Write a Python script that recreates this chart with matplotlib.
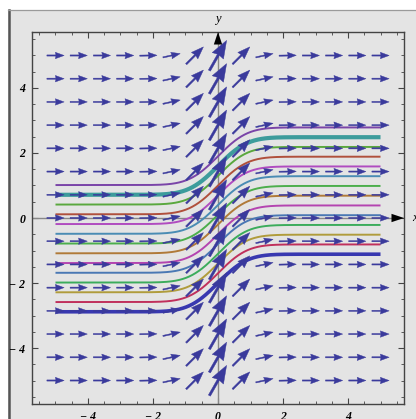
import numpy as np
import matplotlib
matplotlib.use("Agg")
import matplotlib.pyplot as plt
from matplotlib.patches import Rectangle
from matplotlib.lines import Line2D

# ---- data ----
col_x = [-5.0, -4.286, -3.571, -2.857, -2.143, -1.429, -0.714, 0.0,
         0.714, 1.429, 2.143, 2.857, 3.571, 4.286, 5.0]
col_slope = [0.0, 0.0, 0.0, 0.0, 0.02, 0.22, 1.0, 1.75,
             1.0, 0.22, 0.02, 0.0, 0.0, 0.0, 0.0]
row_y = [-5.0, -4.286, -3.571, -2.857, -2.143, -1.429, -0.714, 0.0,
         0.714, 1.429, 2.143, 2.857, 3.571, 4.286, 5.0]

# solution curves y' = exp(-x^2), value at x = 0
y0_values = [1.9, 1.6, 1.3, 1.0, 0.7, 0.4, 0.1, -0.2, -0.5, -0.8, -1.1, -1.4, -1.7, -2.0]
curve_colors = ['#7a44a8', '#3d9c9c', '#5aa83e', '#b0503c', '#b04cc0', '#4a8cb4', '#4cae4c',
                '#b07a38', '#b444b0', '#4a78b4', '#3cac5c', '#b09c3c', '#c0305c', '#3838b0']
curve_widths = [1.4, 3.0, 1.4, 1.4, 1.4, 1.4, 1.4, 1.4, 1.4, 1.4, 1.4, 1.4, 1.4, 2.6]

x_ticks = [-4, -2, 0, 2, 4]
y_ticks = [-4, -2, 0, 2, 4]
tick_labels = ['\u2212 4', '\u2212 2', '0', '2', '4']

W, H = 416, 419
fig = plt.figure(figsize=(W / 100, H / 100), dpi=100)
fig.patch.set_facecolor('white')

# outer grey panel
panel = Rectangle((8 / W, 0), 1 - 8 / W, 1 - 10 / H, transform=fig.transFigure,
                  facecolor='#e4e4e4', edgecolor='none', zorder=-10)
fig.patches.append(panel)
fig.lines.append(Line2D([9 / W, 9 / W], [0, 1 - 10 / H], transform=fig.transFigure,
                        color='#555555', lw=1.8, zorder=-9))
fig.lines.append(Line2D([8 / W, 1], [1 - 10.5 / H, 1 - 10.5 / H], transform=fig.transFigure,
                        color='#9a9a9a', lw=0.9, zorder=-9))

ax = fig.add_axes([32 / W, 15 / H, 372 / W, 372 / H])
ax.set_zorder(5)
ax.set_facecolor('#e4e4e4')
lim = 5.723
ax.set_xlim(-lim, lim)
ax.set_ylim(-lim, lim)

# solution curves
xs = np.linspace(-5, 5, 801)
f = np.exp(-xs ** 2)
integ = np.concatenate([[0], np.cumsum((f[1:] + f[:-1]) / 2 * np.diff(xs))])
i0 = np.argmin(np.abs(xs))
integ = integ - integ[i0]
for y0, c, lw in zip(y0_values, curve_colors, curve_widths):
    ax.plot(xs, y0 + integ, color=c, lw=lw, zorder=3, solid_capstyle='butt')

# slope-field arrows
L0 = 0.53
w0 = 0.036
arrow_color = '#3a3a9c'
for cx, s in zip(col_x, col_slope):
    mag = np.sqrt(1 + s * s)
    X = np.full(len(row_y), cx)
    Y = np.array(row_y)
    U = np.full(len(row_y), L0)
    V = np.full(len(row_y), L0 * s)
    ax.quiver(X, Y, U, V, angles='xy', scale_units='xy', scale=1, units='xy',
              pivot='middle', width=w0 * mag, headwidth=5.5, headlength=7.5,
              headaxislength=7.0, color=arrow_color, zorder=4,
              edgecolor=arrow_color, linewidth=0.3)

# axes through origin
ax.plot([-lim, lim - 0.3], [0, 0], color='#888888', lw=1.0, zorder=2)
ax.plot([0, 0], [-lim, lim - 0.3], color='#888888', lw=1.0, zorder=2)
ax.annotate('', xy=(lim, 0), xytext=(lim - 0.5, 0),
            arrowprops=dict(arrowstyle='-|>,head_length=0.9,head_width=0.3',
                            color='black', lw=0, shrinkA=0, shrinkB=0), zorder=5)
ax.annotate('', xy=(0, lim), xytext=(0, lim - 0.5),
            arrowprops=dict(arrowstyle='-|>,head_length=0.9,head_width=0.3',
                            color='black', lw=0, shrinkA=0, shrinkB=0), zorder=5)
ax.text(lim + 0.25, 0, 'x', fontsize=9, style='italic', family='Liberation Serif',
        ha='left', va='center', clip_on=False)
ax.text(0, lim + 0.2, 'y', fontsize=9, style='italic', family='Liberation Serif',
        ha='center', va='bottom', clip_on=False)

# frame & ticks
for sp in ax.spines.values():
    sp.set_color('#444444')
    sp.set_linewidth(1.0)
ax.set_xticks(x_ticks)
ax.set_yticks(y_ticks)
ax.set_xticklabels(tick_labels)
ax.set_yticklabels(tick_labels)
ax.set_xticks(np.arange(-5.5, 5.51, 0.5), minor=True)
ax.set_yticks(np.arange(-5.5, 5.51, 0.5), minor=True)
ax.tick_params(which='both', direction='in', top=True, right=True, color='#444444')
ax.tick_params(which='major', length=4.5, width=0.8, pad=5)
ax.tick_params(which='minor', length=2.2, width=0.6)
for lab in ax.get_xticklabels() + ax.get_yticklabels():
    lab.set_family('Liberation Serif')
    lab.set_style('italic')
    lab.set_weight('bold')
    lab.set_fontsize(8.5)

fig.savefig('out.png', dpi=100)
